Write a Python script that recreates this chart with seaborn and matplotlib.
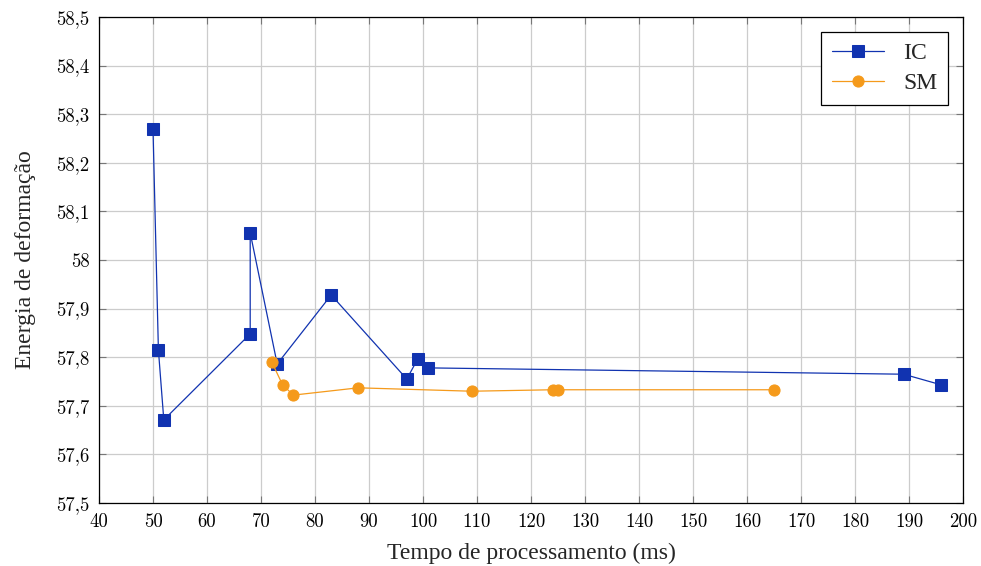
import matplotlib
matplotlib.use("Agg")
import matplotlib.pyplot as plt
import seaborn as sns
import pandas as pd

ic_x = [50, 51, 52, 68, 68, 73, 83, 97, 99, 101, 189, 196]
ic_y = [58.27, 57.815, 57.671, 57.848, 58.056, 57.786, 57.928, 57.755, 57.796, 57.778, 57.765, 57.743]
sm_x = [72, 74, 76, 88, 109, 124, 125, 165]
sm_y = [57.790, 57.743, 57.722, 57.737, 57.730, 57.733, 57.733, 57.733]

x_ticks = [40, 50, 60, 70, 80, 90, 100, 110, 120, 130, 140, 150, 160, 170, 180, 190, 200]
y_ticks = [57.5, 57.6, 57.7, 57.8, 57.9, 58.0, 58.1, 58.2, 58.3, 58.4, 58.5]
x_tick_labels = [str(v) for v in x_ticks]
y_tick_labels = ["57,5", "57,6", "57,7", "57,8", "57,9", "58", "58,1", "58,2", "58,3", "58,4", "58,5"]

sns.set_theme(style="whitegrid")
plt.rcParams['font.family'] = ['Liberation Serif', 'DejaVu Serif']

fig = plt.figure(figsize=(9.81, 5.66), dpi=100)
ax = fig.add_axes([99/981, 1-503/566, (963-99)/981, (503-17)/566])

df_ic = pd.DataFrame({"x": ic_x, "y": ic_y})
df_sm = pd.DataFrame({"x": sm_x, "y": sm_y})

blue = "#1133b0"
orange = "#f59a1b"
sns.lineplot(data=df_ic, x="x", y="y", sort=False, estimator=None, ax=ax, color=blue, lw=0.9,
             marker="s", markersize=8, markeredgecolor=blue, label="IC")
sns.lineplot(data=df_sm, x="x", y="y", sort=False, estimator=None, ax=ax, color=orange, lw=0.9,
             marker="o", markersize=8, markeredgecolor=orange, label="SM")

ax.set_xlim(40, 200)
ax.set_ylim(57.5, 58.5)
ax.set_xticks(x_ticks, x_tick_labels, fontfamily="cmr10", fontsize=13.5)
ax.set_yticks(y_ticks, y_tick_labels, fontfamily="cmr10", fontsize=13.5)

ax.grid(True, color="#cccccc", lw=0.9)
for s in ax.spines.values():
    s.set_color("black")
    s.set_linewidth(0.9)
ax.tick_params(axis="both", direction="in", length=5, width=0.8, color="#777777",
               top=True, right=True, bottom=True, left=True, pad=7,
               labelcolor="black")
ax.set_xlabel("Tempo de processamento (ms)", fontsize=17)
ax.set_ylabel("Energia de deformação", fontsize=17)
ax.xaxis.set_label_coords(0.5, -0.082)
ax.yaxis.set_label_coords(-0.073, 0.5)

leg = ax.legend(loc="upper right", fontsize=17, frameon=True, fancybox=False,
                edgecolor="black", framealpha=1, borderaxespad=0.65, handlelength=2.2,
                labelspacing=0.35, borderpad=0.45)
leg.get_frame().set_linewidth(0.9)

fig.savefig("out.png", dpi=100)
